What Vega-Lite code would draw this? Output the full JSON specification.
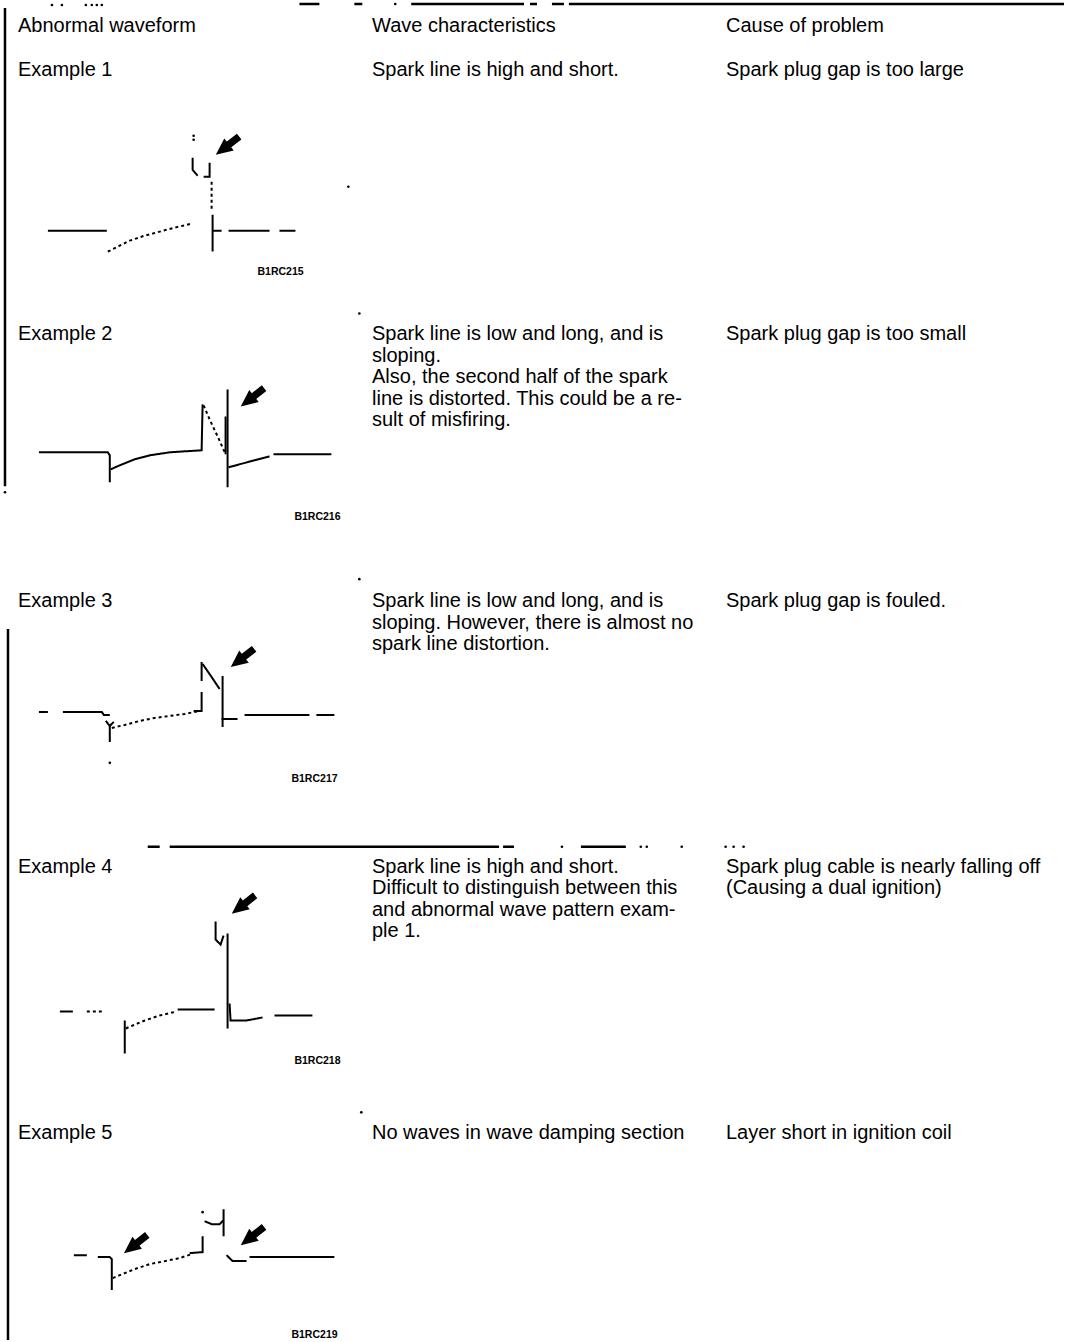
{
  "$schema": "https://vega.github.io/schema/vega-lite/v6.json",
  "autosize": {"type": "fit", "contains": "padding"},
  "width": 1066,
  "height": 1342,
  "padding": 0,
  "background": "white",
  "config": {"view": {"stroke": null}},
  "datasets": {
    "frame": [
      {"x": 300, "x2": 320, "y": 4, "y2": 4},
      {"x": 355, "x2": 363, "y": 4, "y2": 4},
      {"x": 412, "x2": 525, "y": 4, "y2": 4},
      {"x": 531, "x2": 538, "y": 4, "y2": 4},
      {"x": 553, "x2": 565, "y": 4, "y2": 4},
      {"x": 570, "x2": 1066, "y": 4, "y2": 4},
      {"x": 5, "x2": 5, "y": 8, "y2": 487},
      {"x": 8, "x2": 8, "y": 630, "y2": 1342},
      {"x": 148, "x2": 160, "y": 848, "y2": 848},
      {"x": 170, "x2": 500, "y": 848, "y2": 848},
      {"x": 504, "x2": 515, "y": 848, "y2": 848},
      {"x": 582, "x2": 627, "y": 848, "y2": 848}
    ],
    "dots": [
      {"x": 52, "y": 5}, {"x": 62, "y": 5}, {"x": 86, "y": 5}, {"x": 92, "y": 5},
      {"x": 97, "y": 5}, {"x": 102, "y": 5}, {"x": 396, "y": 4},
      {"x": 5, "y": 493},
      {"x": 563, "y": 848}, {"x": 642, "y": 848}, {"x": 648, "y": 848}, {"x": 683, "y": 848},
      {"x": 727, "y": 848}, {"x": 735, "y": 848}, {"x": 745, "y": 848},
      {"x": 194, "y": 136}, {"x": 194, "y": 140}, {"x": 349, "y": 187},
      {"x": 360, "y": 314}, {"x": 360, "y": 580}, {"x": 110, "y": 764},
      {"x": 203, "y": 1214}, {"x": 362, "y": 1114}
    ],
    "arrows": [
      {"ex": 1, "x": 229, "y": 145},
      {"ex": 2, "x": 254, "y": 397},
      {"ex": 3, "x": 244, "y": 658},
      {"ex": 4, "x": 245, "y": 905},
      {"ex": 5, "x": 137, "y": 1245},
      {"ex": 5, "x": 254, "y": 1237}
    ],
    "codes": [
      {"x": 258, "y": 272, "code": "B1RC215"},
      {"x": 295, "y": 518, "code": "B1RC216"},
      {"x": 292, "y": 780, "code": "B1RC217"},
      {"x": 295, "y": 1063, "code": "B1RC218"},
      {"x": 292, "y": 1337, "code": "B1RC219"}
    ],
    "cells": [
      {"col": "waveform", "y": 32, "text": "Abnormal waveform"},
      {"col": "characteristics", "y": 32, "text": "Wave characteristics"},
      {"col": "cause", "y": 32, "text": "Cause of problem"},
      {"col": "waveform", "y": 76, "text": "Example 1"},
      {"col": "characteristics", "y": 76, "text": "Spark line is high and short."},
      {"col": "cause", "y": 76, "text": "Spark plug gap is too large"},
      {"col": "waveform", "y": 341, "text": "Example 2"},
      {"col": "characteristics", "y": 341, "text": "Spark line is low and long, and is\nsloping.\nAlso, the second half of the spark\nline is distorted. This could be a re-\nsult of misfiring."},
      {"col": "cause", "y": 341, "text": "Spark plug gap is too small"},
      {"col": "waveform", "y": 608, "text": "Example 3"},
      {"col": "characteristics", "y": 608, "text": "Spark line is low and long, and is\nsloping. However, there is almost no\nspark line distortion."},
      {"col": "cause", "y": 608, "text": "Spark plug gap is fouled."},
      {"col": "waveform", "y": 874, "text": "Example 4"},
      {"col": "characteristics", "y": 874, "text": "Spark line is high and short.\nDifficult to distinguish between this\nand abnormal wave pattern exam-\nple 1."},
      {"col": "cause", "y": 874, "text": "Spark plug cable is nearly falling off\n(Causing a dual ignition)"},
      {"col": "waveform", "y": 1141, "text": "Example 5"},
      {"col": "characteristics", "y": 1141, "text": "No waves in wave damping section"},
      {"col": "cause", "y": 1141, "text": "Layer short in ignition coil"}
    ],
    "waves": [
      {"seg": "1a", "trace": "solid", "i": 0, "x": 48, "y": 231},
      {"seg": "1a", "trace": "solid", "i": 1, "x": 107, "y": 231},
      {"seg": "1b", "trace": "dotted", "i": 0, "x": 108, "y": 252},
      {"seg": "1b", "trace": "dotted", "i": 1, "x": 118, "y": 247},
      {"seg": "1b", "trace": "dotted", "i": 2, "x": 130, "y": 241},
      {"seg": "1b", "trace": "dotted", "i": 3, "x": 145, "y": 236},
      {"seg": "1b", "trace": "dotted", "i": 4, "x": 160, "y": 232},
      {"seg": "1b", "trace": "dotted", "i": 5, "x": 175, "y": 228},
      {"seg": "1b", "trace": "dotted", "i": 6, "x": 192, "y": 224},
      {"seg": "1c", "trace": "solid", "i": 0, "x": 213, "y": 215},
      {"seg": "1c", "trace": "solid", "i": 1, "x": 213, "y": 252},
      {"seg": "1d", "trace": "solid", "i": 0, "x": 213, "y": 231},
      {"seg": "1d", "trace": "solid", "i": 1, "x": 222, "y": 231},
      {"seg": "1e", "trace": "solid", "i": 0, "x": 229, "y": 231},
      {"seg": "1e", "trace": "solid", "i": 1, "x": 270, "y": 231},
      {"seg": "1f", "trace": "solid", "i": 0, "x": 280, "y": 231},
      {"seg": "1f", "trace": "solid", "i": 1, "x": 296, "y": 231},
      {"seg": "1g", "trace": "dotted", "i": 0, "x": 212, "y": 182},
      {"seg": "1g", "trace": "dotted", "i": 1, "x": 212, "y": 212},
      {"seg": "1h", "trace": "solid", "i": 0, "x": 193, "y": 158},
      {"seg": "1h", "trace": "solid", "i": 1, "x": 193, "y": 170},
      {"seg": "1h", "trace": "solid", "i": 2, "x": 198, "y": 176},
      {"seg": "1i", "trace": "solid", "i": 0, "x": 204, "y": 177},
      {"seg": "1i", "trace": "solid", "i": 1, "x": 210, "y": 177},
      {"seg": "1i", "trace": "solid", "i": 2, "x": 210, "y": 163},

      {"seg": "2a", "trace": "solid", "i": 0, "x": 39, "y": 453},
      {"seg": "2a", "trace": "solid", "i": 1, "x": 108, "y": 453},
      {"seg": "2a", "trace": "solid", "i": 2, "x": 110, "y": 456},
      {"seg": "2a", "trace": "solid", "i": 3, "x": 110, "y": 483},
      {"seg": "2b", "trace": "solid", "i": 0, "x": 111, "y": 470},
      {"seg": "2b", "trace": "solid", "i": 1, "x": 120, "y": 466},
      {"seg": "2b", "trace": "solid", "i": 2, "x": 135, "y": 460},
      {"seg": "2b", "trace": "solid", "i": 3, "x": 150, "y": 456},
      {"seg": "2b", "trace": "solid", "i": 4, "x": 170, "y": 453},
      {"seg": "2b", "trace": "solid", "i": 5, "x": 185, "y": 452},
      {"seg": "2b", "trace": "solid", "i": 6, "x": 202, "y": 451},
      {"seg": "2b", "trace": "solid", "i": 7, "x": 203, "y": 405},
      {"seg": "2c", "trace": "dotted", "i": 0, "x": 204, "y": 406},
      {"seg": "2c", "trace": "dotted", "i": 1, "x": 210, "y": 420},
      {"seg": "2c", "trace": "dotted", "i": 2, "x": 218, "y": 437},
      {"seg": "2c", "trace": "dotted", "i": 3, "x": 226, "y": 455},
      {"seg": "2d", "trace": "solid", "i": 0, "x": 226, "y": 417},
      {"seg": "2d", "trace": "solid", "i": 1, "x": 226, "y": 455},
      {"seg": "2e", "trace": "solid", "i": 0, "x": 228, "y": 390},
      {"seg": "2e", "trace": "solid", "i": 1, "x": 228, "y": 488},
      {"seg": "2f", "trace": "solid", "i": 0, "x": 229, "y": 468},
      {"seg": "2f", "trace": "solid", "i": 1, "x": 240, "y": 465},
      {"seg": "2f", "trace": "solid", "i": 2, "x": 255, "y": 461},
      {"seg": "2f", "trace": "solid", "i": 3, "x": 270, "y": 457},
      {"seg": "2g", "trace": "solid", "i": 0, "x": 274, "y": 455},
      {"seg": "2g", "trace": "solid", "i": 1, "x": 332, "y": 455},

      {"seg": "3a", "trace": "solid", "i": 0, "x": 39, "y": 713},
      {"seg": "3a", "trace": "solid", "i": 1, "x": 48, "y": 713},
      {"seg": "3b", "trace": "solid", "i": 0, "x": 63, "y": 713},
      {"seg": "3b", "trace": "solid", "i": 1, "x": 102, "y": 713},
      {"seg": "3b", "trace": "solid", "i": 2, "x": 104, "y": 716},
      {"seg": "3b", "trace": "solid", "i": 3, "x": 110, "y": 716},
      {"seg": "3c", "trace": "solid", "i": 0, "x": 106, "y": 722},
      {"seg": "3c", "trace": "solid", "i": 1, "x": 110, "y": 727},
      {"seg": "3c", "trace": "solid", "i": 2, "x": 114, "y": 723},
      {"seg": "3k", "trace": "solid", "i": 0, "x": 110, "y": 727},
      {"seg": "3k", "trace": "solid", "i": 1, "x": 110, "y": 743},
      {"seg": "3d", "trace": "dotted", "i": 0, "x": 112, "y": 729},
      {"seg": "3d", "trace": "dotted", "i": 1, "x": 125, "y": 726},
      {"seg": "3d", "trace": "dotted", "i": 2, "x": 140, "y": 722},
      {"seg": "3d", "trace": "dotted", "i": 3, "x": 155, "y": 719},
      {"seg": "3d", "trace": "dotted", "i": 4, "x": 170, "y": 717},
      {"seg": "3d", "trace": "dotted", "i": 5, "x": 185, "y": 715},
      {"seg": "3d", "trace": "dotted", "i": 6, "x": 200, "y": 712},
      {"seg": "3l", "trace": "solid", "i": 0, "x": 194, "y": 712},
      {"seg": "3l", "trace": "solid", "i": 1, "x": 202, "y": 712},
      {"seg": "3l", "trace": "solid", "i": 2, "x": 202, "y": 693},
      {"seg": "3e", "trace": "solid", "i": 0, "x": 202, "y": 663},
      {"seg": "3e", "trace": "solid", "i": 1, "x": 202, "y": 682},
      {"seg": "3f", "trace": "solid", "i": 0, "x": 203, "y": 665},
      {"seg": "3f", "trace": "solid", "i": 1, "x": 212, "y": 678},
      {"seg": "3f", "trace": "solid", "i": 2, "x": 220, "y": 690},
      {"seg": "3g", "trace": "solid", "i": 0, "x": 223, "y": 677},
      {"seg": "3g", "trace": "solid", "i": 1, "x": 223, "y": 728},
      {"seg": "3h", "trace": "solid", "i": 0, "x": 222, "y": 720},
      {"seg": "3h", "trace": "solid", "i": 1, "x": 238, "y": 720},
      {"seg": "3i", "trace": "solid", "i": 0, "x": 245, "y": 716},
      {"seg": "3i", "trace": "solid", "i": 1, "x": 310, "y": 716},
      {"seg": "3j", "trace": "solid", "i": 0, "x": 317, "y": 716},
      {"seg": "3j", "trace": "solid", "i": 1, "x": 335, "y": 716},

      {"seg": "4a", "trace": "solid", "i": 0, "x": 60, "y": 1013},
      {"seg": "4a", "trace": "solid", "i": 1, "x": 73, "y": 1013},
      {"seg": "4b", "trace": "dotted", "i": 0, "x": 87, "y": 1013},
      {"seg": "4b", "trace": "dotted", "i": 1, "x": 102, "y": 1013},
      {"seg": "4c", "trace": "solid", "i": 0, "x": 125, "y": 1022},
      {"seg": "4c", "trace": "solid", "i": 1, "x": 125, "y": 1055},
      {"seg": "4d", "trace": "dotted", "i": 0, "x": 126, "y": 1030},
      {"seg": "4d", "trace": "dotted", "i": 1, "x": 133, "y": 1027},
      {"seg": "4d", "trace": "dotted", "i": 2, "x": 145, "y": 1022},
      {"seg": "4d", "trace": "dotted", "i": 3, "x": 160, "y": 1017},
      {"seg": "4d", "trace": "dotted", "i": 4, "x": 177, "y": 1013},
      {"seg": "4e", "trace": "solid", "i": 0, "x": 178, "y": 1011},
      {"seg": "4e", "trace": "solid", "i": 1, "x": 215, "y": 1011},
      {"seg": "4f", "trace": "solid", "i": 0, "x": 216, "y": 923},
      {"seg": "4f", "trace": "solid", "i": 1, "x": 216, "y": 941},
      {"seg": "4f", "trace": "solid", "i": 2, "x": 221, "y": 946},
      {"seg": "4f", "trace": "solid", "i": 3, "x": 224, "y": 937},
      {"seg": "4g", "trace": "solid", "i": 0, "x": 228, "y": 935},
      {"seg": "4g", "trace": "solid", "i": 1, "x": 228, "y": 1030},
      {"seg": "4i", "trace": "solid", "i": 0, "x": 230, "y": 1005},
      {"seg": "4i", "trace": "solid", "i": 1, "x": 231, "y": 1022},
      {"seg": "4i", "trace": "solid", "i": 2, "x": 247, "y": 1022},
      {"seg": "4i", "trace": "solid", "i": 3, "x": 263, "y": 1019},
      {"seg": "4j", "trace": "solid", "i": 0, "x": 275, "y": 1017},
      {"seg": "4j", "trace": "solid", "i": 1, "x": 313, "y": 1017},

      {"seg": "5a", "trace": "solid", "i": 0, "x": 74, "y": 1257},
      {"seg": "5a", "trace": "solid", "i": 1, "x": 87, "y": 1257},
      {"seg": "5b", "trace": "solid", "i": 0, "x": 98, "y": 1259},
      {"seg": "5b", "trace": "solid", "i": 1, "x": 110, "y": 1259},
      {"seg": "5b", "trace": "solid", "i": 2, "x": 112, "y": 1261},
      {"seg": "5b", "trace": "solid", "i": 3, "x": 112, "y": 1292},
      {"seg": "5c", "trace": "dotted", "i": 0, "x": 113, "y": 1280},
      {"seg": "5c", "trace": "dotted", "i": 1, "x": 120, "y": 1277},
      {"seg": "5c", "trace": "dotted", "i": 2, "x": 135, "y": 1271},
      {"seg": "5c", "trace": "dotted", "i": 3, "x": 150, "y": 1266},
      {"seg": "5c", "trace": "dotted", "i": 4, "x": 165, "y": 1263},
      {"seg": "5c", "trace": "dotted", "i": 5, "x": 180, "y": 1260},
      {"seg": "5c", "trace": "dotted", "i": 6, "x": 192, "y": 1256},
      {"seg": "5h", "trace": "solid", "i": 0, "x": 190, "y": 1255},
      {"seg": "5h", "trace": "solid", "i": 1, "x": 203, "y": 1254},
      {"seg": "5h", "trace": "solid", "i": 2, "x": 203, "y": 1238},
      {"seg": "5d", "trace": "solid", "i": 0, "x": 205, "y": 1223},
      {"seg": "5d", "trace": "solid", "i": 1, "x": 212, "y": 1226},
      {"seg": "5d", "trace": "solid", "i": 2, "x": 220, "y": 1226},
      {"seg": "5d", "trace": "solid", "i": 3, "x": 224, "y": 1222},
      {"seg": "5e", "trace": "solid", "i": 0, "x": 224, "y": 1211},
      {"seg": "5e", "trace": "solid", "i": 1, "x": 224, "y": 1238},
      {"seg": "5f", "trace": "solid", "i": 0, "x": 227, "y": 1257},
      {"seg": "5f", "trace": "solid", "i": 1, "x": 233, "y": 1263},
      {"seg": "5f", "trace": "solid", "i": 2, "x": 247, "y": 1263},
      {"seg": "5g", "trace": "solid", "i": 0, "x": 250, "y": 1259},
      {"seg": "5g", "trace": "solid", "i": 1, "x": 335, "y": 1259}
    ]
  },
  "resolve": {"scale": {"x": "independent"}},
  "layer": [
    {
      "data": {"name": "frame"},
      "mark": {"type": "rule", "color": "black", "strokeWidth": 2.5},
      "encoding": {
        "x": {"field": "x", "type": "quantitative", "scale": {"domain": [0, 1066], "nice": false, "zero": false}, "axis": null},
        "x2": {"field": "x2"},
        "y": {"field": "y", "type": "quantitative", "scale": {"domain": [0, 1342], "nice": false, "zero": false, "reverse": true}, "axis": null},
        "y2": {"field": "y2"}
      }
    },
    {
      "data": {"name": "waves"},
      "mark": {"type": "line", "color": "black", "strokeWidth": 2, "interpolate": "linear"},
      "encoding": {
        "x": {"field": "x", "type": "quantitative", "scale": {"domain": [0, 1066], "nice": false, "zero": false}, "axis": null},
        "y": {"field": "y", "type": "quantitative", "scale": {"domain": [0, 1342], "nice": false, "zero": false, "reverse": true}, "axis": null},
        "detail": {"field": "seg", "type": "nominal"},
        "order": {"field": "i", "type": "quantitative"},
        "strokeDash": {"field": "trace", "type": "nominal", "scale": {"domain": ["solid", "dotted"], "range": [[1, 0], [3, 3]]}, "legend": null}
      }
    },
    {
      "data": {"name": "dots"},
      "mark": {"type": "circle", "color": "black", "size": 7, "opacity": 1},
      "encoding": {
        "x": {"field": "x", "type": "quantitative", "scale": {"domain": [0, 1066], "nice": false, "zero": false}, "axis": null},
        "y": {"field": "y", "type": "quantitative", "scale": {"domain": [0, 1342], "nice": false, "zero": false, "reverse": true}, "axis": null}
      }
    },
    {
      "data": {"name": "arrows"},
      "mark": {"type": "point", "shape": "arrow", "filled": true, "color": "black", "stroke": "black", "strokeWidth": 4, "size": 520, "angle": 232, "opacity": 1},
      "encoding": {
        "x": {"field": "x", "type": "quantitative", "scale": {"domain": [0, 1066], "nice": false, "zero": false}, "axis": null},
        "y": {"field": "y", "type": "quantitative", "scale": {"domain": [0, 1342], "nice": false, "zero": false, "reverse": true}, "axis": null}
      }
    },
    {
      "data": {"name": "codes"},
      "mark": {"type": "text", "font": "Liberation Sans", "fontSize": 10.5, "fontWeight": "bold", "align": "left", "baseline": "middle", "color": "black"},
      "encoding": {
        "x": {"field": "x", "type": "quantitative", "scale": {"domain": [0, 1066], "nice": false, "zero": false}, "axis": null},
        "y": {"field": "y", "type": "quantitative", "scale": {"domain": [0, 1342], "nice": false, "zero": false, "reverse": true}, "axis": null},
        "text": {"field": "code", "type": "nominal"}
      }
    },
    {
      "data": {"name": "cells"},
      "mark": {"type": "text", "font": "Liberation Sans", "fontSize": 20, "align": "left", "baseline": "alphabetic", "lineBreak": "\n", "lineHeight": 21.5, "color": "black"},
      "encoding": {
        "x": {"field": "col", "type": "nominal", "scale": {"type": "point", "domain": ["waveform", "characteristics", "cause"], "range": [18, 726], "padding": 0}, "axis": null},
        "y": {"field": "y", "type": "quantitative", "scale": {"domain": [0, 1342], "nice": false, "zero": false, "reverse": true}, "axis": null},
        "text": {"field": "text", "type": "nominal"}
      }
    }
  ]
}
